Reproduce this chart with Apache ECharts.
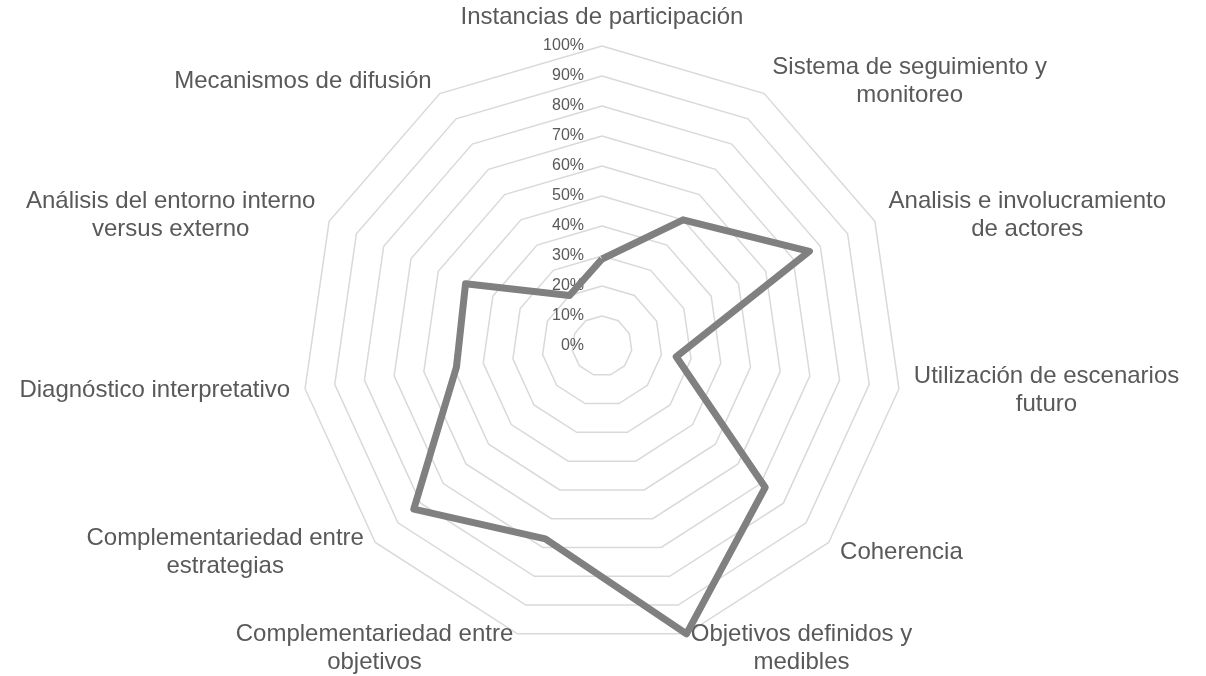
<!DOCTYPE html>
<html>
<head>
<meta charset="utf-8">
<script src="https://cdn.jsdelivr.net/npm/echarts@6/dist/echarts.min.js"></script>
<style>
  html, body { margin: 0; padding: 0; background: #fff; }
  #chart { width: 1206px; height: 676px; }
</style>
</head>
<body>
<div id="chart"></div>
<script>
// ejes en orden horario, empezando arriba
var categories = [
  'Instancias de participación',
  'Sistema de seguimiento y\nmonitoreo',
  'Analisis e involucramiento\nde actores',
  'Utilización de escenarios\nfuturo',
  'Coherencia',
  'Objetivos definidos y\nmedibles',
  'Complementariedad entre\nobjetivos',
  'Complementariedad entre\nestrategias',
  'Diagnóstico interpretativo',
  'Análisis del entorno interno\nversus externo',
  'Mecanismos de difusión'
]
var values = [29, 50, 76, 25, 72, 100, 67, 83, 49, 50, 20]
var maxValue = 100
var tickStep = 10

var labelFont = 'Liberation Sans, Arial, sans-serif'

// echarts pone los indicadores en sentido antihorario: invertir el resto
function ccw (arr) {
  return [arr[0]].concat(arr.slice(1).reverse())
}

var indicator = ccw(categories).map(function (name, i) {
  return { name: name, min: 0, max: maxValue, axisLabel: { show: i === 0 } }
})

var chart = echarts.init(document.getElementById('chart'))
chart.setOption({
  animation: false,
  radar: {
    center: [602, 346],
    radius: 300,
    startAngle: 90,
    splitNumber: maxValue / tickStep,
    shape: 'polygon',
    nameGap: 15,
    indicator: indicator,
    axisName: {
      formatter: function (name) {
        return name.split('\n').map(function (s) { return '{c|' + s + '}' }).join('\n')
      },
      rich: {
        c: {
          align: 'center',
          fontFamily: labelFont,
          fontSize: 24,
          lineHeight: 28,
          color: '#595959'
        }
      }
    },
    axisLine: { show: false },
    axisTick: { show: false },
    axisLabel: {
      show: false,
      margin: 18,
      fontFamily: labelFont,
      fontSize: 16,
      color: '#595959',
      formatter: '{value}%'
    },
    splitLine: { lineStyle: { color: '#d9d9d9', width: 1.5 } },
    splitArea: { show: false }
  },
  series: [{
    type: 'radar',
    symbol: 'none',
    lineStyle: { color: '#808080', width: 7, join: 'round' },
    data: [{ value: ccw(values) }]
  }]
})
</script>
</body>
</html>
